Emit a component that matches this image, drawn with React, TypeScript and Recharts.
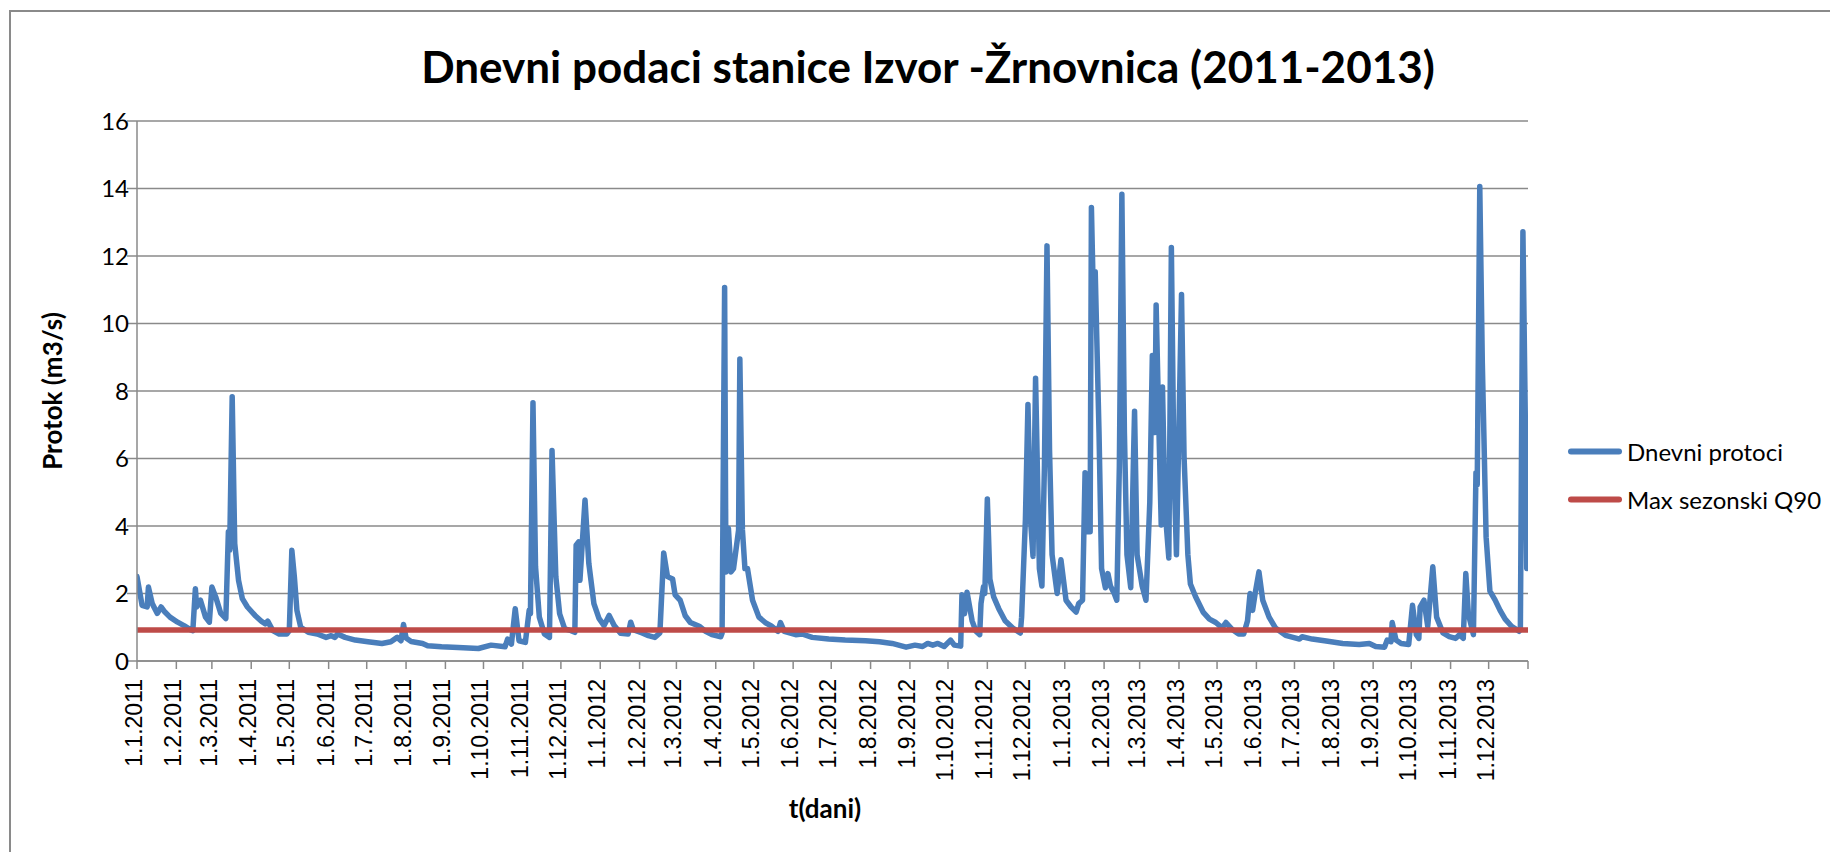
import React from 'react';
import { LineChart, Line, XAxis, YAxis, CartesianGrid } from 'recharts';

// day index counted from 1.1.2011
const flowDays = [
  0, 4, 8, 9, 12, 16, 19, 22, 26, 32, 37, 42, 44, 46, 47, 50, 54, 57, 59, 62, 66, 70, 72, 73, 75, 77, 80, 83, 87, 93,
  98, 101, 103, 107, 112, 118, 120, 122, 124, 126, 129, 135, 142, 149, 153, 156, 158, 164, 172, 182, 193, 200, 205,
  208, 210, 212, 216, 225, 229, 240, 253, 269, 279, 290, 292, 295, 298, 301, 306, 309, 310, 312, 314, 317, 321, 325,
  327, 330, 333, 337, 342, 345, 346, 348, 349, 353, 356, 360, 364, 368, 372, 376, 381, 387, 389, 391, 398, 403, 408,
  412, 415, 418, 422, 424, 428, 432, 436, 443, 448, 453, 460, 461, 463, 464, 466, 468, 470, 474, 475, 477, 479, 481,
  485, 490, 495, 500, 505, 507, 510, 519, 524, 532, 545, 558, 574, 585, 595, 606, 613, 619, 623, 627, 631, 636, 641,
  644, 649, 650, 652, 654, 658, 661, 664, 665, 667, 668, 670, 672, 675, 679, 684, 690, 696, 697, 700, 702, 704, 706,
  708, 711, 713, 715, 717, 719, 721, 725, 728, 732, 736, 740, 742, 745, 747, 749, 751, 752, 754, 755, 758, 760, 763,
  765, 767, 770, 772, 774, 776, 778, 780, 783, 785, 786, 788, 792, 795, 798, 800, 802, 803, 805, 807, 808, 810, 813,
  815, 817, 819, 821, 823, 825, 828, 830, 834, 840, 845, 850, 855, 858, 863, 868, 872, 875, 877, 879, 881, 884, 887,
  892, 897, 905, 916, 918, 926, 937, 950, 963, 971, 976, 983, 985, 988, 989, 992, 996, 1002, 1005, 1008, 1010, 1011,
  1014, 1017, 1021, 1024, 1029, 1034, 1039, 1042, 1045, 1047, 1049, 1053, 1055, 1056, 1058, 1060, 1063, 1066, 1070,
  1074, 1078, 1083, 1089, 1090, 1092, 1094, 1095,
];

const flowValues = [
  2.5, 1.65, 1.6, 2.19, 1.7, 1.41, 1.6, 1.45, 1.3, 1.15, 1.05, 0.93, 0.9, 2.14, 1.6, 1.8, 1.3, 1.15, 2.19, 1.9, 1.41,
  1.26, 3.83, 3.28, 7.83, 3.48, 2.39, 1.85, 1.6, 1.35, 1.18, 1.1, 1.18, 0.9, 0.8, 0.8, 0.9, 3.28, 2.49, 1.5, 1.0, 0.85,
  0.8, 0.7, 0.75, 0.7, 0.8, 0.7, 0.62, 0.57, 0.52, 0.57, 0.7, 0.6, 1.08, 0.68, 0.58, 0.52, 0.45, 0.42, 0.4, 0.37,
  0.47, 0.42, 0.65, 0.5, 1.55, 0.6, 0.55, 1.5, 1.4, 7.65, 2.8, 1.3, 0.8, 0.7, 6.24, 2.5, 1.4, 0.95, 0.9, 0.85, 3.43,
  3.53, 2.39, 4.77, 2.89, 1.7, 1.26, 1.05, 1.35, 1.05, 0.82, 0.8, 1.15, 0.93, 0.83, 0.75, 0.7, 0.83, 3.2, 2.5, 2.43,
  1.96, 1.8, 1.34, 1.14, 1.03, 0.88, 0.78, 0.72, 0.83, 11.07, 2.64, 3.93, 2.64, 2.74, 3.88, 8.95, 3.9, 2.74, 2.74,
  1.8, 1.3, 1.14, 1.03, 0.88, 1.14, 0.88, 0.78, 0.8, 0.7, 0.65, 0.62, 0.6, 0.57, 0.52, 0.41, 0.47, 0.43, 0.52, 0.47,
  0.52, 0.43, 0.62, 0.47, 0.44, 1.96, 1.4, 2.04, 1.19, 0.88, 0.78, 1.7, 2.2, 2.0, 4.8, 2.43, 1.9, 1.55, 1.19, 0.98,
  0.83, 1.3, 4.2, 7.6, 4.2, 3.1, 8.38, 2.74, 2.22, 5.8, 12.3, 6.26, 3.15, 2.0, 3.0, 1.8, 1.6, 1.45, 1.7, 1.8, 5.58,
  3.83, 3.83, 13.44, 9.98, 11.53, 6.77, 2.74, 2.17, 2.59, 2.22, 2.0, 1.8, 5.74, 13.83, 6.77, 3.15, 2.17, 5.74, 7.4,
  3.15, 2.22, 1.8, 4.7, 9.05, 6.77, 10.55, 7.19, 4.03, 8.12, 4.5, 3.05, 12.25, 5.74, 3.15, 6.98, 10.86, 6.05, 3.15,
  2.28, 1.91, 1.45, 1.24, 1.14, 0.98, 1.14, 0.93, 0.8, 0.8, 1.19, 2.0, 1.5, 2.0, 2.64, 1.8, 1.3, 0.98, 0.76, 0.65,
  0.72, 0.65, 0.59, 0.52, 0.49, 0.52, 0.43, 0.41, 0.62, 0.57, 1.14, 0.62, 0.52, 0.49, 1.65, 0.78, 0.67, 1.6, 1.8,
  1.03, 2.79, 1.3, 0.83, 0.72, 0.67, 0.78, 0.67, 2.59, 1.4, 0.78, 5.58, 5.22, 14.06, 8.84, 3.67, 2.07, 1.81, 1.5,
  1.24, 1.03, 0.88, 0.98, 12.72, 6.77, 2.74,
];

const q90Days = [0, 1096];
const q90Values = [0.92, 0.92];

const monthStarts = [
  0, 31, 59, 90, 120, 151, 181, 212, 243, 273, 304, 334,
  365, 396, 425, 456, 486, 517, 547, 578, 609, 639, 670, 700,
  731, 762, 790, 821, 851, 882, 912, 943, 974, 1004, 1035, 1065, 1096,
];
const monthLabels = [
  '1.1.2011', '1.2.2011', '1.3.2011', '1.4.2011', '1.5.2011', '1.6.2011', '1.7.2011', '1.8.2011', '1.9.2011', '1.10.2011', '1.11.2011', '1.12.2011',
  '1.1.2012', '1.2.2012', '1.3.2012', '1.4.2012', '1.5.2012', '1.6.2012', '1.7.2012', '1.8.2012', '1.9.2012', '1.10.2012', '1.11.2012', '1.12.2012',
  '1.1.2013', '1.2.2013', '1.3.2013', '1.4.2013', '1.5.2013', '1.6.2013', '1.7.2013', '1.8.2013', '1.9.2013', '1.10.2013', '1.11.2013', '1.12.2013',
  '',
];
const yTicks = [0, 2, 4, 6, 8, 10, 12, 14, 16];

const seriesNames = ['Dnevni protoci', 'Max sezonski Q90'];
const BLUE = '#4a7ebb';
const RED = '#be4b48';
const GRID = '#8a8a8a';
const CALIBRI = 'Lato, "Open Sans", sans-serif';

const flowData = flowDays.map((d, i) => ({ day: d, flow: flowValues[i] }));
const q90Data = q90Days.map((d, i) => ({ day: d, q90: q90Values[i] }));

const XTick = (props: any) => {
  const { x, y, payload } = props;
  const label = monthLabels[monthStarts.indexOf(payload.value)];
  return (
    <text
      transform={`translate(${x - 3},${y + 8}) rotate(-90)`}
      textAnchor="end"
      dominantBaseline="central"
      fontFamily='"Liberation Sans", Arial, sans-serif'
      fontSize={23}
      fill="#000"
    >
      {label}
    </text>
  );
};

export default function App() {
  return (
    <div style={{ position: 'absolute', left: 0, top: 0, width: 1830, height: 852, overflow: 'hidden', background: '#fff' }}>
      <div style={{ position: 'absolute', left: 9, top: 10, width: 1900, height: 900, border: `2px solid ${GRID}` }} />

      <div style={{ position: 'absolute', left: 0, top: 0 }}>
        <LineChart width={1830} height={852} margin={{ top: 121, right: 302, bottom: 71, left: 0 }}>
          <CartesianGrid vertical={false} stroke={GRID} strokeWidth={1.5} />
          <XAxis
            type="number"
            dataKey="day"
            domain={[0, 1096]}
            ticks={monthStarts}
            interval={0}
            height={120}
            tick={<XTick />}
            tickSize={8}
            stroke={GRID}
            strokeWidth={1.5}
            allowDataOverflow
          />
          <YAxis
            type="number"
            domain={[0, 16]}
            ticks={yTicks}
            interval={0}
            width={137}
            tickSize={10}
            tickMargin={-2}
            stroke={GRID}
            strokeWidth={1.5}
            tick={{ fill: '#000', fontSize: 24, fontFamily: CALIBRI }}
          />
          <Line data={flowData} dataKey="flow" type="linear" stroke={BLUE} strokeWidth={5.5} strokeLinejoin="round" strokeLinecap="round" dot={false} isAnimationActive={false} />
          <Line data={q90Data} dataKey="q90" type="linear" stroke={RED} strokeWidth={5.5} dot={false} isAnimationActive={false} />
        </LineChart>
      </div>

      <div style={{ position: 'absolute', left: 928, top: 66, transform: 'translate(-50%, -50%)', whiteSpace: 'nowrap', fontFamily: CALIBRI, fontWeight: 700, fontSize: 44, color: '#000' }}>
        Dnevni podaci stanice Izvor -Žrnovnica (2011-2013)
      </div>
      <div style={{ position: 'absolute', left: 52, top: 391, transform: 'translate(-50%, -50%) rotate(-90deg)', whiteSpace: 'nowrap', fontFamily: CALIBRI, fontWeight: 700, fontSize: 26, color: '#000' }}>
        Protok (m3/s)
      </div>
      <div style={{ position: 'absolute', left: 825, top: 808, transform: 'translate(-50%, -50%)', whiteSpace: 'nowrap', fontFamily: CALIBRI, fontWeight: 700, fontSize: 26, color: '#000' }}>
        t(dani)
      </div>

      {[BLUE, RED].map((c, i) => (
        <div key={c} style={{ position: 'absolute', left: 1568, top: 451 + i * 48, transform: 'translateY(-50%)', display: 'flex', alignItems: 'center', whiteSpace: 'nowrap' }}>
          <span style={{ display: 'inline-block', width: 54, height: 6, borderRadius: 3, background: c }} />
          <span style={{ marginLeft: 5, fontFamily: CALIBRI, fontSize: 24, color: '#000' }}>{seriesNames[i]}</span>
        </div>
      ))}
    </div>
  );
}
